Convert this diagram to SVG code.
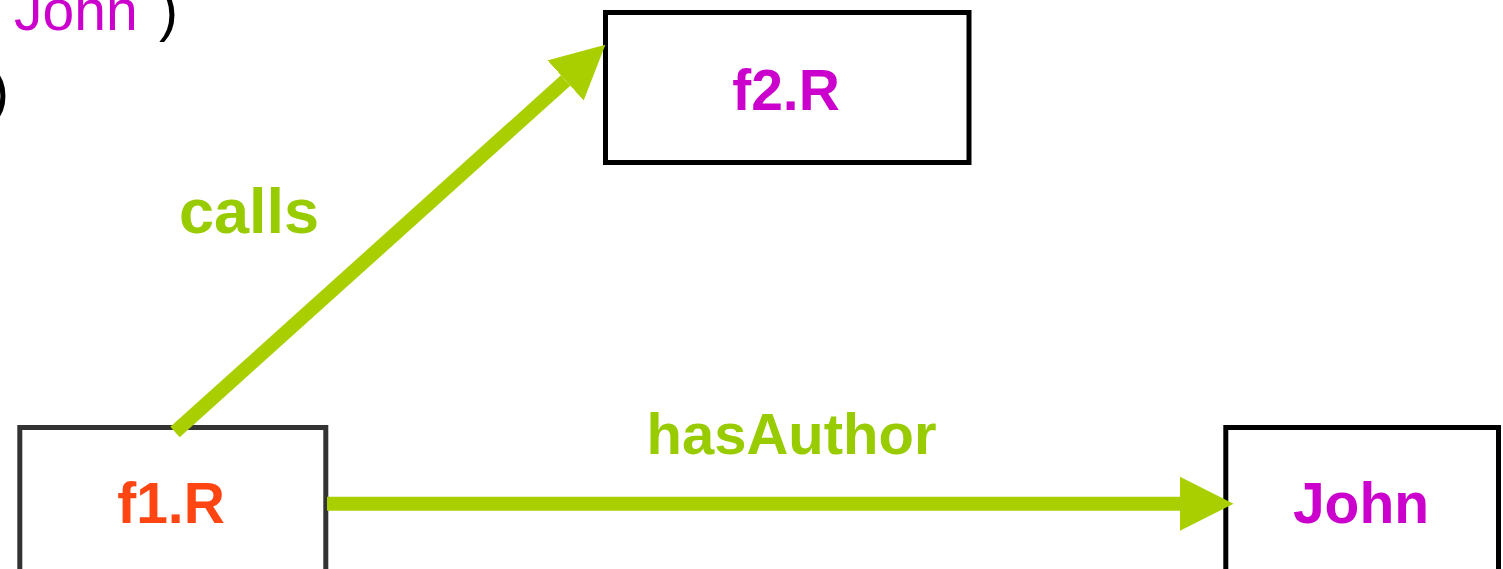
<svg xmlns="http://www.w3.org/2000/svg" width="1503" height="569" viewBox="0 0 1503 569">
  <style>
    .box { fill: #ffffff; stroke-width: 5; }
    .lbl { font-family: "Liberation Sans", Arial, sans-serif; font-weight: bold; font-size: 57px; text-anchor: middle; }
    .edge { stroke: #AACF00; stroke-width: 14; fill: none; stroke-linecap: butt; }
    .elbl { font-family: "Liberation Sans", Arial, sans-serif; font-weight: bold; fill: #99CC00; text-anchor: middle; }
    .code { font-family: "Liberation Sans", Arial, sans-serif; font-size: 57px; }
  </style>
  <defs>
    <marker id="head" markerUnits="userSpaceOnUse" markerWidth="54" markerHeight="55" viewBox="0 0 54 55" refX="0" refY="27.5" orient="auto">
      <path d="M0,0.5 L53.5,27.5 L0,54.5 Z" fill="#AACF00"/>
    </marker>
  </defs>
  <rect width="1503" height="569" fill="#ffffff"/>

  <g id="code-fragment">
    <text class="code" y="30"><tspan x="14" fill="#CC00CC">John</tspan><tspan x="159" fill="#000000">)</tspan></text>
    <text class="code" x="-10" y="111" fill="#000000">)</text>
  </g>

  <g id="node-f2">
    <rect class="box" x="605.5" y="12.5" width="363.5" height="150" stroke="#000000"/>
    <text class="lbl" x="786" y="109.5" fill="#CC00CC">f2.R</text>
  </g>

  <g id="node-f1">
    <rect class="box" x="19.8" y="427.5" width="306" height="160" stroke="#333333"/>
    <text class="lbl" x="171" y="522.5" fill="#FF4512">f1.R</text>
  </g>

  <g id="node-john">
    <rect class="box" x="1225.8" y="427.5" width="272.7" height="160" stroke="#000000"/>
    <text class="lbl" x="1361" y="522.5" fill="#CC00CC">John</text>
  </g>

  <g id="connectors">
    <line class="edge" x1="175" y1="432" x2="565.6" y2="80.5" marker-end="url(#head)"/>
    <text class="elbl" x="249" y="233" font-size="63">calls</text>
    <line class="edge" x1="327" y1="503.8" x2="1180" y2="503.8" marker-end="url(#head)"/>
    <text class="elbl" x="791.5" y="454" font-size="58">hasAuthor</text>
  </g>
</svg>
